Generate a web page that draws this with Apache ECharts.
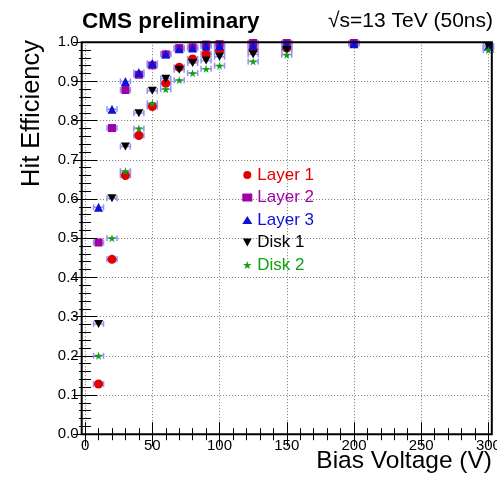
<!DOCTYPE html>
<html>
<head>
<meta charset="utf-8">
<script src="https://cdn.jsdelivr.net/npm/echarts@6/dist/echarts.min.js"></script>
<style>
html,body{margin:0;padding:0;background:#fff;}
#chart{width:497px;height:477px;}
</style>
</head>
<body>
<div id="chart"></div>
<script>
// ---- data ----
const voltages = [10, 20, 30, 40, 50, 60, 70, 80, 90, 100, 125, 150, 200, 300];
const layer1 = [0.128, 0.446, 0.660, 0.762, 0.836, 0.895, 0.936, 0.957, 0.970, 0.978, 0.981, 0.985, null, null];
const layer2 = [0.489, 0.781, 0.878, 0.917, 0.941, 0.969, 0.985, 0.987, 0.994, 0.995, 0.998, 0.998, 0.998, null];
const layer3 = [0.579, 0.829, 0.900, 0.923, 0.946, 0.970, 0.983, 0.985, 0.990, 0.991, 0.992, 0.994, 0.996, 0.990];
const disk1  = [0.281, 0.602, 0.734, 0.819, 0.876, 0.907, 0.930, 0.947, 0.953, 0.963, 0.969, 0.980, null, 0.990];
const disk2  = [0.200, 0.500, 0.671, 0.780, 0.844, 0.880, 0.903, 0.921, 0.932, 0.940, 0.951, 0.968, null, 0.980];
const seriesNames = ['Layer 1', 'Layer 2', 'Layer 3', 'Disk 1', 'Disk 2'];
const xTicks = [0, 50, 100, 150, 200, 250, 300];
const yTicks = [0.0, 0.1, 0.2, 0.3, 0.4, 0.5, 0.6, 0.7, 0.8, 0.9, 1.0];

// ---- styles ----
const colors = ['#e00000', '#a000a8', '#1010d8', '#000000', '#10a010'];
const downTri = 'path://M0,0 L10,0 L5,9 Z';
const star = 'path://M5,0 L6.2,3.6 L10,3.6 L7,5.9 L8.1,9.5 L5,7.3 L1.9,9.5 L3,5.9 L0,3.6 L3.8,3.6 Z';
const symbols = ['circle', 'rect', 'triangle', downTri, star];
const sizes = [9, 8, 9, [9, 8], 8];
const FONT = 'Liberation Sans, Arial, Helvetica, sans-serif';

const allData = [layer1, layer2, layer3, disk1, disk2];
function pairs(arr) {
  const out = [];
  voltages.forEach((v, i) => { if (arr[i] !== null) out.push([v, arr[i]]); });
  return out;
}
const errPoints = [];
allData.forEach(a => pairs(a).forEach(p => errPoints.push(p)));

const chart = echarts.init(document.getElementById('chart'), null, {renderer: 'canvas'});

const GL = 85.1, GR = 497 - 488.4, GT = 42.2, GB = 477 - 434.2;
const OFF = 3.4;

const commonTick = {show: true, inside: true, length: 12, lineStyle: {color: '#000', width: 1}};
const commonMinor = {show: true, splitNumber: 5, length: 6, lineStyle: {color: '#000', width: 1}};
const gridStyle = {show: true, lineStyle: {color: '#777', type: [1, 2], width: 1}};

const option = {
  animation: false,
  backgroundColor: '#fff',
  grid: {left: GL, right: GR, top: GT, bottom: GB, containLabel: false, outerBoundsMode: 'none'},
  xAxis: [
    {
      type: 'value', min: 0, max: 300, interval: 50, position: 'bottom',
      axisLine: {show: false},
      axisTick: commonTick, minorTick: commonMinor,
      splitLine: gridStyle,
      axisLabel: {show: true, margin: 4, fontSize: 15, color: '#000', fontFamily: FONT,
        hideOverlap: false,
        formatter: v => (xTicks.indexOf(v) >= 0 ? String(v) : '')}
    },
    {
      type: 'value', min: 0, max: 300, interval: 50, position: 'top',
      axisLine: {show: false},
      axisTick: commonTick, minorTick: commonMinor,
      splitLine: {show: false}, axisLabel: {show: false}
    }
  ],
  yAxis: [
    {
      type: 'value', min: 0, max: 1, interval: 0.1, position: 'left', offset: OFF,
      axisLine: {show: false},
      axisTick: commonTick, minorTick: commonMinor,
      splitLine: gridStyle,
      axisLabel: {show: true, margin: 3, fontSize: 15, color: '#000', fontFamily: FONT,
        formatter: v => {
          const t = yTicks.find(y => Math.abs(y - v) < 1e-6);
          return t === undefined ? '' : t.toFixed(1);
        }}
    },
    {
      type: 'value', min: 0, max: 1, interval: 0.1, position: 'right', offset: OFF,
      axisLine: {show: false},
      axisTick: commonTick, minorTick: commonMinor,
      splitLine: {show: false}, axisLabel: {show: false}
    }
  ],
  legend: {
    orient: 'vertical', left: 242.3, top: 166.5, padding: 0,
    itemWidth: 10, itemHeight: 8, itemGap: 5.5,
    textStyle: {fontSize: 17, fontFamily: FONT, lineHeight: 17},
    data: seriesNames.map((n, i) => ({name: n, textStyle: {color: colors[i]}}))
  },
  graphic: [
    {type: 'rect', z: 100, silent: true,
      shape: {x: GL - OFF, y: GT, width: 497 - GR + OFF - (GL - OFF), height: 477 - GB - GT},
      style: {fill: 'none', stroke: '#000', lineWidth: 2}},
    {type: 'text', left: 82, top: 10, z: 100,
      style: {text: 'CMS preliminary', font: 'bold 22.5px ' + FONT, fill: '#000'}},
    {type: 'text', right: 4, top: 11, z: 100,
      style: {text: '\u221As=13 TeV (50ns)', font: '21px ' + FONT, fill: '#000'}},
    {type: 'text', right: 5, top: 449, z: 100,
      style: {text: 'Bias Voltage (V)', font: '24.5px ' + FONT, fill: '#000'}},
    {type: 'text', x: 32, y: 40, rotation: Math.PI / 2, z: 100,
      style: {text: 'Hit Efficiency', font: '25.5px ' + FONT, fill: '#000', align: 'right', verticalAlign: 'middle'}}
  ],
  series: [
    {
      type: 'custom', name: 'errors', z: 1, silent: true,
      data: errPoints,
      renderItem: function (params, api) {
        const c = api.coord([api.value(0), api.value(1)]);
        const st = {stroke: '#9494ea', lineWidth: 1.5};
        return {
          type: 'group',
          children: [
            {type: 'line', shape: {x1: c[0] - 5, y1: c[1] - 3, x2: c[0] - 5, y2: c[1] + 3}, style: st},
            {type: 'line', shape: {x1: c[0] + 5, y1: c[1] - 3, x2: c[0] + 5, y2: c[1] + 3}, style: st},
            {type: 'line', shape: {x1: c[0] - 5, y1: c[1], x2: c[0] + 5, y2: c[1]}, style: st}
          ]
        };
      }
    }
  ].concat(seriesNames.map((n, i) => ({
    type: 'scatter', name: n, z: 2 + i,
    symbol: symbols[i], symbolSize: sizes[i],
    itemStyle: {color: colors[i], opacity: 1},
    data: pairs(allData[i])
  })))
};
chart.setOption(option);
</script>
</body>
</html>
